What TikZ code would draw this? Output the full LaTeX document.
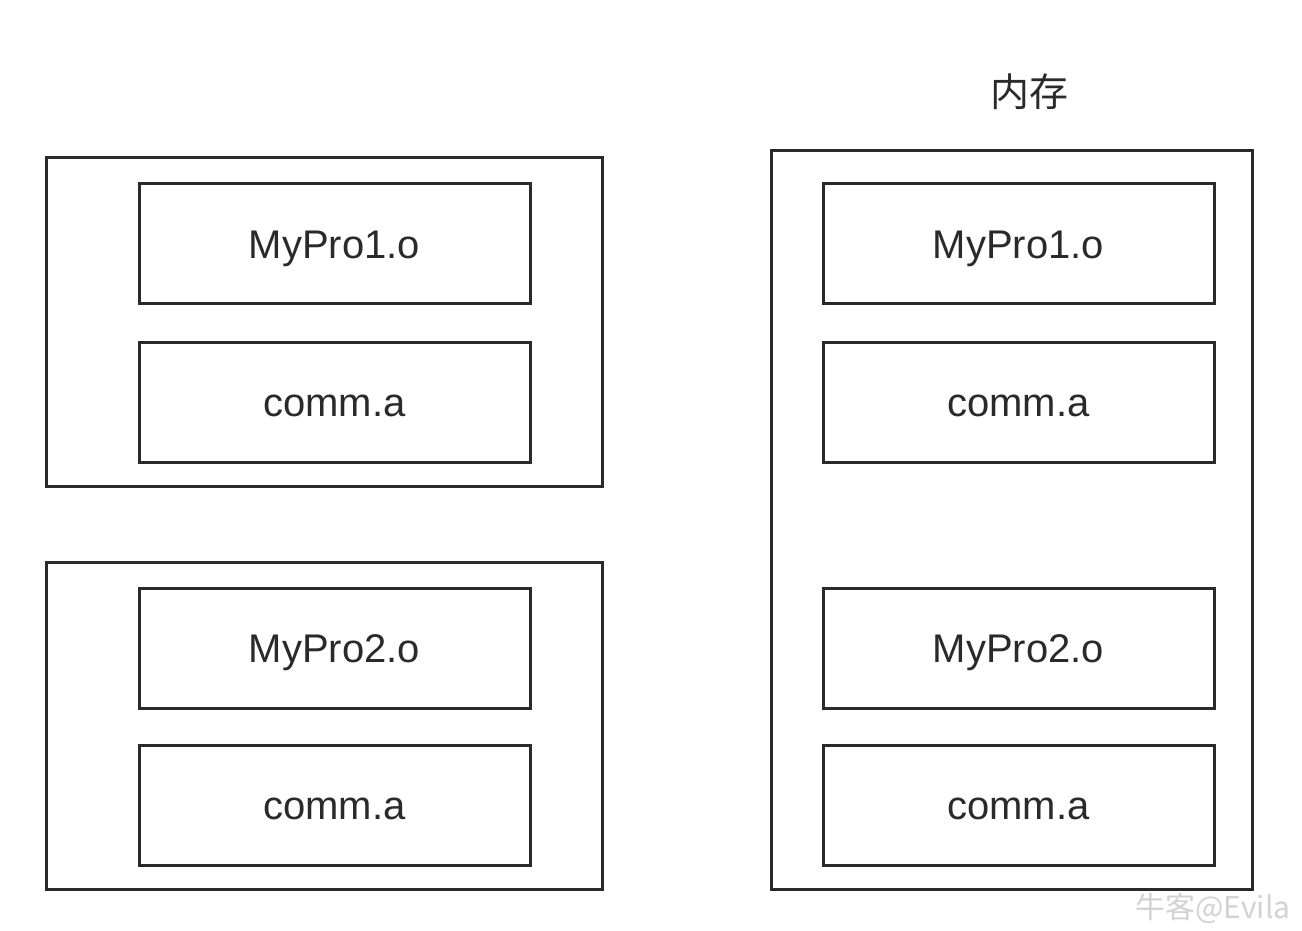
\documentclass[tikz,border=0pt]{standalone}
\usepackage{fontspec}
\setmainfont{Liberation Sans}
\newfontfamily\cjk{Noto Sans CJK SC}
\definecolor{ink}{HTML}{2A2A2A}
\begin{document}
\begin{tikzpicture}[x=1pt,y=-1pt,
  outerbox/.style={draw=ink,line width=3pt},
  innerbox/.style={draw=ink,line width=3pt,minimum width=391pt,minimum height=120pt,inner sep=0pt,
    font=\fontsize{40}{46}\selectfont,text=ink,text height=29pt,text depth=0pt}]
\useasboundingbox (0,0) rectangle (1302,930);
% left top group
\draw[outerbox] (46,157) rectangle (602,486);
\node[innerbox] (l1) at (334.5,243.5) {MyPro1.o};
\node[innerbox] (l2) at (334.5,402) {comm.a};
% left bottom group
\draw[outerbox] (46,562) rectangle (602,889);
\node[innerbox] (l3) at (334.5,648) {MyPro2.o};
\node[innerbox] (l4) at (334.5,805) {comm.a};
% right memory
\node[font=\cjk\fontsize{39}{44}\selectfont,text=ink] (title) at (1029,92) {内存};
\draw[outerbox] (771,150) rectangle (1252,889);
\node[innerbox] (r1) at (1018.5,243.5) {MyPro1.o};
\node[innerbox] (r2) at (1018.5,402) {comm.a};
\node[innerbox] (r3) at (1018.5,648) {MyPro2.o};
\node[innerbox] (r4) at (1018.5,805) {comm.a};
% watermark
\node[font=\cjk\fontsize{30}{34}\selectfont,text=gray!35,anchor=east] (wm) at (1294,908) {牛客@Evila};
\end{tikzpicture}
\end{document}
